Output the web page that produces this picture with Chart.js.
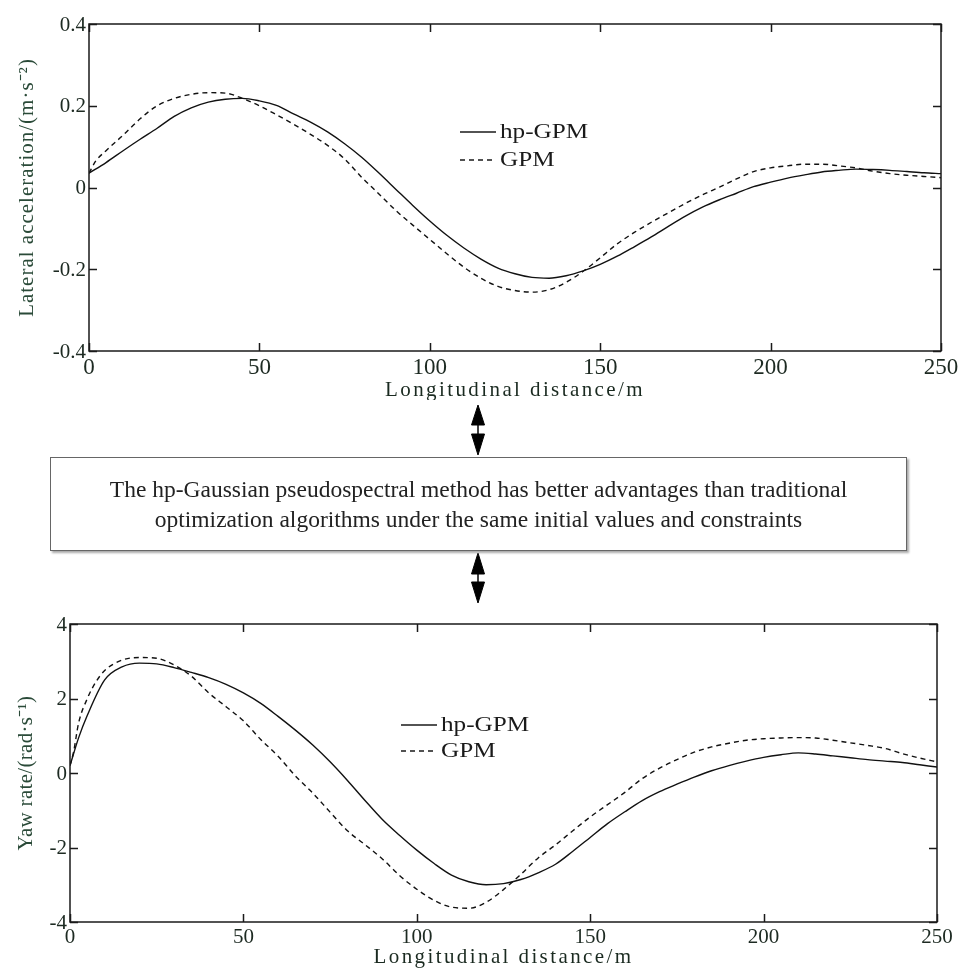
<!DOCTYPE html>
<html>
<head>
<meta charset="utf-8">
<script src="https://cdn.jsdelivr.net/npm/chart.js@4"></script>
<style>
  body { margin: 0; background: #fff; width: 972px; height: 975px; position: relative; overflow: hidden; }
  #topWrap { position: absolute; left: 0; top: 0; }
  #bottomWrap { position: absolute; left: 0; top: 600px; }
  #note {
    position: absolute; left: 50px; top: 457px; width: 857px; height: 94px;
    border: 1.5px solid #666; box-shadow: 2px 2px 2px #aaa;
    font-family: "Liberation Serif", serif; font-size: 23.5px; line-height: 30px;
    color: #222; text-align: center; box-sizing: border-box; padding-top: 16px;
  }
  svg { position: absolute; left: 0; top: 0; }
</style>
</head>
<body>
<div id="topWrap"><canvas id="accChart" width="972" height="400"></canvas></div>
<svg width="972" height="975">
  <g fill="#000" stroke="#000">
    <polygon points="478,405 471.5,425 484.5,425" />
    <line x1="478" y1="425" x2="478" y2="434" stroke-width="1.5" />
    <polygon points="471.5,434 484.5,434 478,455" />
    <polygon points="478,553 471.5,574 484.5,574" />
    <line x1="478" y1="574" x2="478" y2="582" stroke-width="1.5" />
    <polygon points="471.5,582 484.5,582 478,603" />
  </g>
</svg>
<div id="note">The hp-Gaussian pseudospectral method has better advantages than traditional<br>optimization algorithms under the same initial values and constraints</div>
<div id="bottomWrap"><canvas id="yawChart" width="972" height="375"></canvas></div>

<script>
// lateral acceleration (top chart)
const distAccHp = [0,5,10,15,20,25,30,35,40,45,50,55,60,65,70,75,80,85,90,95,100,105,110,115,120,125,130,135,140,145,150,155,160,165,170,175,180,185,190,195,200,205,210,215,220,225,230,235,240,245,250];
const accHp = [0.035,0.061,0.09,0.118,0.145,0.174,0.195,0.209,0.216,0.218,0.212,0.201,0.18,0.16,0.136,0.107,0.074,0.036,-0.004,-0.044,-0.082,-0.117,-0.148,-0.175,-0.197,-0.211,-0.22,-0.222,-0.216,-0.204,-0.188,-0.168,-0.145,-0.121,-0.095,-0.07,-0.048,-0.03,-0.014,0.002,0.013,0.023,0.031,0.038,0.042,0.045,0.044,0.042,0.039,0.036,0.034];
const distAccGpm = [0,2,5,10,15,20,25,30,35,40,45,50,55,60,65,70,75,80,85,90,95,100,105,110,115,120,125,130,135,140,145,150,155,160,165,170,175,180,185,190,195,200,205,210,215,220,225,230,235,240,245,250];
const accGpm = [0.035,0.065,0.09,0.128,0.168,0.2,0.218,0.228,0.232,0.231,0.218,0.2,0.178,0.155,0.13,0.103,0.07,0.025,-0.015,-0.056,-0.092,-0.127,-0.162,-0.195,-0.222,-0.242,-0.252,-0.256,-0.25,-0.232,-0.205,-0.172,-0.138,-0.11,-0.085,-0.062,-0.039,-0.018,0.001,0.021,0.039,0.048,0.053,0.057,0.057,0.053,0.048,0.04,0.034,0.03,0.027,0.024];

// yaw rate (bottom chart)
const distYawHp = [0,2.5,5,10,15,20,25,30,35,40,45,50,55,60,65,70,75,80,85,90,95,100,105,110,115,120,125,130,135,140,145,150,155,160,165,170,175,180,185,190,195,200,205,210,215,220,225,230,235,240,245,250];
const yawHp = [0.2,0.95,1.55,2.5,2.85,2.95,2.93,2.83,2.7,2.56,2.38,2.15,1.87,1.52,1.15,0.75,0.3,-0.2,-0.73,-1.24,-1.67,-2.07,-2.43,-2.74,-2.92,-3.0,-2.97,-2.86,-2.68,-2.45,-2.1,-1.73,-1.36,-1.04,-0.74,-0.5,-0.3,-0.11,0.06,0.2,0.32,0.42,0.49,0.54,0.51,0.46,0.41,0.36,0.32,0.28,0.22,0.16];
const distYawGpm = [0,1,2.5,5,7.5,10,15,20,25,30,35,40,45,50,55,60,65,70,75,80,85,90,95,100,105,110,115,120,125,130,135,140,145,150,155,160,165,170,175,180,185,190,195,200,205,210,215,220,225,230,235,240,245,250];
const yawGpm = [0.2,0.55,1.35,2.0,2.45,2.75,3.03,3.1,3.08,2.9,2.6,2.15,1.78,1.4,0.9,0.45,-0.08,-0.54,-1.05,-1.55,-1.92,-2.3,-2.75,-3.12,-3.42,-3.6,-3.63,-3.47,-3.13,-2.72,-2.28,-1.93,-1.55,-1.18,-0.85,-0.52,-0.15,0.13,0.36,0.56,0.7,0.8,0.88,0.92,0.94,0.95,0.94,0.88,0.81,0.74,0.66,0.52,0.4,0.3];

const xTicks = [0, 50, 100, 150, 200, 250];
const accTicks = [-0.4, -0.2, 0, 0.2, 0.4];
const yawTicks = [-4, -2, 0, 2, 4];
const seriesNames = ["hp-GPM", "GPM"];
const xTitle = "Longitudinal distance/m";

const serif = "'Liberation Serif', 'Times New Roman', serif";

function toPoints(xs, ys) {
  return xs.map((x, i) => ({ x: x, y: ys[i] }));
}

function fmt(v) {
  return String(Number(v.toFixed(1)));
}

// box, inward ticks on all four sides, tick labels, titles and the legend
const framePlugin = {
  id: "frame",
  afterDatasetsDraw(chart, args, o) {
    const { ctx, chartArea: a, scales } = chart;
    const tl = 8;
    ctx.save();
    ctx.strokeStyle = "#1a1a1a";
    ctx.lineWidth = 1.5;
    ctx.strokeRect(a.left, a.top, a.right - a.left, a.bottom - a.top);
    ctx.beginPath();
    scales.x.ticks.forEach((t) => {
      const px = Math.round(scales.x.getPixelForValue(t.value)) + 0.5;
      ctx.moveTo(px, a.bottom); ctx.lineTo(px, a.bottom - tl);
      ctx.moveTo(px, a.top); ctx.lineTo(px, a.top + tl);
    });
    scales.y.ticks.forEach((t) => {
      const py = Math.round(scales.y.getPixelForValue(t.value)) + 0.5;
      ctx.moveTo(a.left, py); ctx.lineTo(a.left + tl, py);
      ctx.moveTo(a.right, py); ctx.lineTo(a.right - tl, py);
    });
    ctx.stroke();

    // tick labels
    ctx.fillStyle = "#1d2a22";
    ctx.font = o.xTickSize + "px " + serif;
    ctx.textAlign = "center";
    ctx.textBaseline = "alphabetic";
    scales.x.ticks.forEach((t) => {
      ctx.fillText(fmt(t.value), scales.x.getPixelForValue(t.value), a.bottom + o.xTickDrop);
    });
    ctx.font = o.yTickSize + "px " + serif;
    ctx.textAlign = "right";
    ctx.textBaseline = "middle";
    scales.y.ticks.forEach((t) => {
      ctx.fillText(fmt(t.value), a.left - 3, scales.y.getPixelForValue(t.value) + 1);
    });

    // axis titles
    ctx.font = "21px " + serif;
    ctx.fillStyle = "#1a2a20";
    ctx.textAlign = "center";
    ctx.textBaseline = "alphabetic";
    ctx.letterSpacing = o.xTitleSpacing + "px";
    ctx.fillText(xTitle, (a.left + a.right) / 2, o.xTitleY);
    ctx.letterSpacing = o.yTitleSpacing + "px";
    ctx.fillStyle = "#2a4a38";
    ctx.translate(o.yTitleX, (a.top + a.bottom) / 2);
    ctx.rotate(-Math.PI / 2);
    ctx.textBaseline = "middle";
    ctx.fillText(o.yTitle, 0, 0);
    ctx.setTransform(1, 0, 0, 1, 0, 0);
    ctx.letterSpacing = "0px";

    // legend
    const lg = o.legend;
    ctx.fillStyle = "#1a1a1a";
    ctx.textAlign = "left";
    ctx.textBaseline = "middle";
    chart.data.datasets.forEach((ds, i) => {
      const y = lg.y + i * lg.gap;
      ctx.beginPath();
      ctx.setLineDash(ds.borderDash || []);
      ctx.lineWidth = 1.5;
      ctx.moveTo(lg.x, y); ctx.lineTo(lg.x + 36, y);
      ctx.stroke();
      ctx.setLineDash([]);
      ctx.save();
      ctx.translate(lg.x + 40, y);
      ctx.scale(1.2, 1);
      ctx.font = "21px " + serif;
      ctx.fillText(ds.label, 0, 0);
      ctx.restore();
    });
    ctx.restore();
  }
};

function makeChart(canvas, cfg) {
  return new Chart(canvas, {
    type: "line",
    data: {
      datasets: [
        {
          label: seriesNames[0],
          data: toPoints(cfg.xsA, cfg.ysA),
          borderColor: "#111",
          borderWidth: 1.4,
          pointRadius: 0,
          cubicInterpolationMode: "monotone",
          fill: false,
        },
        {
          label: seriesNames[1],
          data: toPoints(cfg.xsB, cfg.ysB),
          borderColor: "#111",
          borderWidth: 1.4,
          borderDash: [5, 4],
          pointRadius: 0,
          cubicInterpolationMode: "monotone",
          fill: false,
        },
      ],
    },
    options: {
      responsive: false,
      animation: false,
      layout: { padding: { top: 24, right: cfg.right, left: 0, bottom: 0 } },
      plugins: {
        legend: { display: false },
        tooltip: { enabled: false },
        frame: cfg.frame,
      },
      scales: {
        x: {
          type: "linear",
          min: 0,
          max: 250,
          afterBuildTicks: (s) => { s.ticks = xTicks.map((v) => ({ value: v })); },
          afterFit: (s) => { s.height = cfg.xHeight; },
          grid: { display: false, drawTicks: false },
          border: { display: false },
          ticks: { display: false },
        },
        y: {
          min: cfg.yTicks[0],
          max: cfg.yTicks[cfg.yTicks.length - 1],
          afterBuildTicks: (s) => { s.ticks = cfg.yTicks.map((v) => ({ value: v })); },
          afterFit: (s) => { s.width = cfg.yWidth; },
          grid: { display: false, drawTicks: false },
          border: { display: false },
          ticks: { display: false },
        },
      },
    },
    plugins: [framePlugin],
  });
}

makeChart(document.getElementById("accChart"), {
  xsA: distAccHp, ysA: accHp, xsB: distAccGpm, ysB: accGpm,
  yTicks: accTicks, yWidth: 89, right: 31, xHeight: 49,
  frame: {
    xTickSize: 23, yTickSize: 21, xTickDrop: 23,
    xTitleY: 396, xTitleSpacing: 2.4,
    yTitle: "Lateral acceleration/(m·s⁻²)", yTitleX: 27, yTitleSpacing: 1,
    legend: { x: 460, y: 132, gap: 28 },
  },
});

makeChart(document.getElementById("yawChart"), {
  xsA: distYawHp, ysA: yawHp, xsB: distYawGpm, ysB: yawGpm,
  yTicks: yawTicks, yWidth: 70, right: 35, xHeight: 53,
  frame: {
    xTickSize: 21, yTickSize: 21, xTickDrop: 21,
    xTitleY: 363, xTitleSpacing: 2.4,
    yTitle: "Yaw rate/(rad·s⁻¹)", yTitleX: 26, yTitleSpacing: 0.3,
    legend: { x: 401, y: 125, gap: 26 },
  },
});
</script>
</body>
</html>
